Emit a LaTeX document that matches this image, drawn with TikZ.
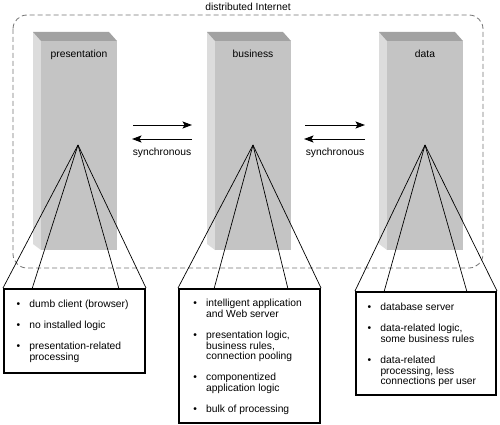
\documentclass[tikz,border=0pt]{standalone}
\usepackage{fontspec}
\setmainfont{Liberation Sans}
\usetikzlibrary{arrows.meta}
\pgfdeclarelayer{pillarlayer}
\pgfdeclarelayer{edgelayer}
\pgfdeclarelayer{nodelayer}
\pgfsetlayers{pillarlayer,edgelayer,nodelayer,main}
\definecolor{pillarfront}{HTML}{C4C4C4}
\definecolor{pillarside}{HTML}{DCDCDC}
\definecolor{pillartop}{HTML}{A2A2A2}
\tikzstyle{edge}=[draw=black, line width=0.7pt]
\tikzstyle{arrow}=[draw=black, line width=0.9pt, -{Stealth[length=9.5pt, width=7pt, inset=2pt]}]
\tikzstyle{frame}=[draw=black!55, dash pattern=on 5pt off 3pt, line width=0.8pt, rounded corners=14pt]
\tikzstyle{listbox}=[rectangle, draw=black, line width=2pt, fill=white, inner sep=0pt]
\tikzstyle{caption}=[inner sep=0pt, anchor=base, font=\fontsize{10.3}{12}\selectfont]
\tikzstyle{itemtext}=[inner sep=0pt, anchor=base west, font=\fontsize{10.3}{10.5}\selectfont]

\begin{document}
\begin{tikzpicture}[x=1pt, y=-1pt]
				\useasboundingbox (0, 0) rectangle (500, 425);
				\begin{pgfonlayer}{pillarlayer}
					% presentation
					\fill [pillarside] (33, 32) -- (41, 41) -- (41, 250) -- (33, 244) -- cycle;
					\fill [pillartop] (33, 32) -- (109, 32) -- (117, 41) -- (41, 41) -- cycle;
					\fill [pillarfront] (41, 41) rectangle (117, 250);
					% business
					\fill [pillarside] (207, 32) -- (215, 41) -- (215, 250) -- (207, 244) -- cycle;
					\fill [pillartop] (207, 32) -- (283, 32) -- (291, 41) -- (215, 41) -- cycle;
					\fill [pillarfront] (215, 41) rectangle (291, 250);
					% data
					\fill [pillarside] (379, 32) -- (387, 41) -- (387, 250) -- (379, 244) -- cycle;
					\fill [pillartop] (379, 32) -- (455, 32) -- (463, 41) -- (387, 41) -- cycle;
					\fill [pillarfront] (387, 41) rectangle (463, 250);
					\draw [style=frame] (13, 15) rectangle (483, 268);
				\end{pgfonlayer}
				\begin{pgfonlayer}{nodelayer}
					\node [style=caption] (0) at (248, 10.4) {distributed Internet};
					\node [style=caption] (1) at (79, 57.7) {presentation};
					\node [style=caption] (2) at (253, 57.7) {business};
					\node [style=caption] (3) at (425, 57.7) {data};
					\node [style=caption] (4) at (162, 155.5) {synchronous};
					\node [style=caption] (5) at (335, 155.5) {synchronous};
					\node [style=listbox, minimum width=141pt, minimum height=84pt] (6) at (74.5, 331) {};
					\node [style=listbox, minimum width=141pt, minimum height=134pt] (7) at (249.5, 356) {};
					\node [style=listbox, minimum width=140pt, minimum height=103pt] (8) at (426, 343.5) {};
					\node [style=itemtext] (9) at (16.5, 307.5) {\begin{tabular}[t]{@{}p{12.8pt}@{}l@{}}
						\textbullet & dumb client (browser)\\[10.5pt]
						\textbullet & no installed logic\\[10.5pt]
						\textbullet & presentation-related\\
						& processing
					\end{tabular}};
					\node [style=itemtext] (10) at (193.2, 306.7) {\begin{tabular}[t]{@{}p{12.8pt}@{}l@{}}
						\textbullet & intelligent application\\
						& and Web server\\[10.5pt]
						\textbullet & presentation logic,\\
						& business rules,\\
						& connection pooling\\[10.5pt]
						\textbullet & componentized\\
						& application logic\\[10.5pt]
						\textbullet & bulk of processing
					\end{tabular}};
					\node [style=itemtext] (11) at (367.5, 310.7) {\begin{tabular}[t]{@{}p{12.8pt}@{}l@{}}
						\textbullet & database server\\[10.5pt]
						\textbullet & data-related logic,\\
						& some business rules\\[10.5pt]
						\textbullet & data-related\\
						& processing, less\\
						& connections per user
					\end{tabular}};
				\end{pgfonlayer}
				\begin{pgfonlayer}{edgelayer}
					\coordinate (12) at (78, 145);
					\coordinate (13) at (253, 145);
					\coordinate (14) at (425, 145);
					\coordinate (15) at (32, 289);
					\coordinate (16) at (119, 289);
					\coordinate (17) at (214, 289);
					\coordinate (18) at (288, 289);
					\coordinate (19) at (384, 292);
					\coordinate (20) at (467, 292);
					\coordinate (21) at (133, 125);
					\coordinate (22) at (192, 125);
					\coordinate (23) at (192, 139);
					\coordinate (24) at (132, 139);
					\coordinate (25) at (305, 125);
					\coordinate (26) at (365, 125);
					\coordinate (27) at (365, 139);
					\coordinate (28) at (304, 139);
					\draw [style=edge] (12) to (6.north west);
					\draw [style=edge] (12) to (15);
					\draw [style=edge] (12) to (16);
					\draw [style=edge] (12) to (6.north east);
					\draw [style=edge] (13) to (7.north west);
					\draw [style=edge] (13) to (17);
					\draw [style=edge] (13) to (18);
					\draw [style=edge] (13) to (7.north east);
					\draw [style=edge] (14) to (8.north west);
					\draw [style=edge] (14) to (19);
					\draw [style=edge] (14) to (20);
					\draw [style=edge] (14) to (8.north east);
					\draw [style=arrow] (21) to (22);
					\draw [style=arrow] (23) to (24);
					\draw [style=arrow] (25) to (26);
					\draw [style=arrow] (27) to (28);
				\end{pgfonlayer}
\end{tikzpicture}
\end{document}
